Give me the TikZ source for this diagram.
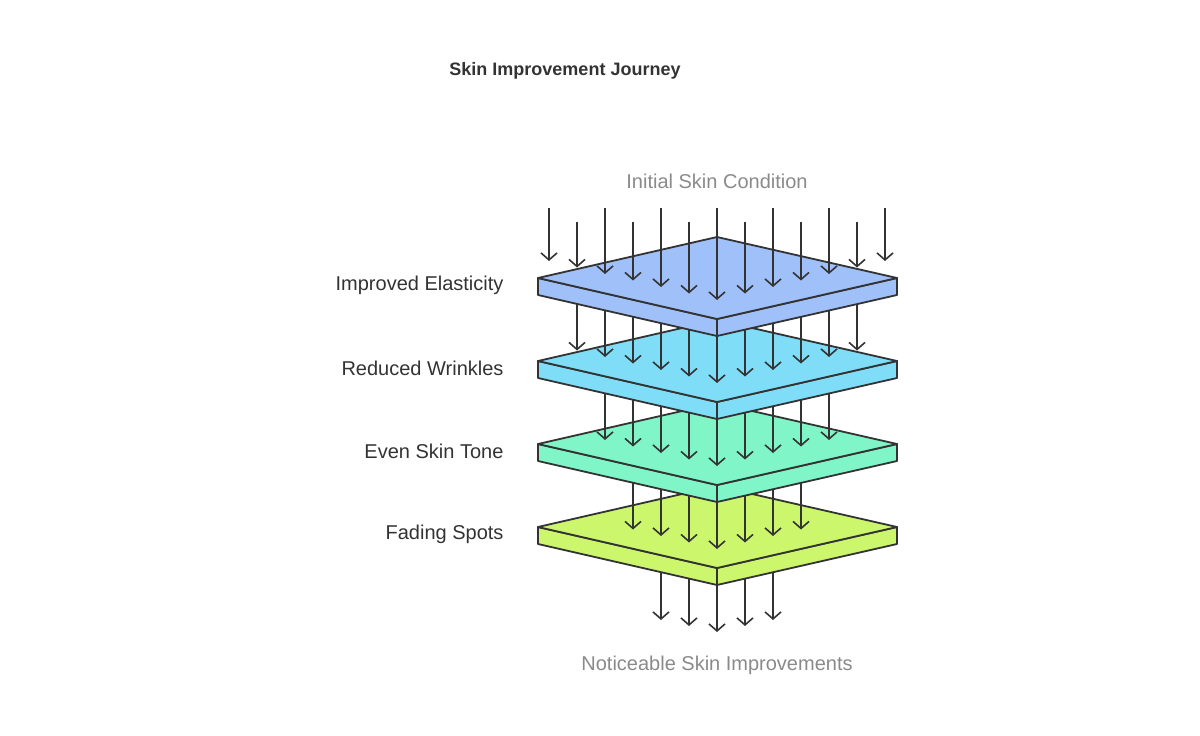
\documentclass[tikz,border=0pt]{standalone}
\usepackage{fontspec}
\setmainfont{Liberation Sans}
\usetikzlibrary{arrows.meta}

\definecolor{ink}{HTML}{333333}
\definecolor{soft}{HTML}{8A8A8A}
\definecolor{layerA}{HTML}{A0C0FA}
\definecolor{layerB}{HTML}{80DDF8}
\definecolor{layerC}{HTML}{80F5C8}
\definecolor{layerD}{HTML}{CCF76D}

\tikzset{
  flow/.style={draw=ink, line width=1.6pt, -{Straight Barb[length=7pt,width=16pt]}},
  slab/.style={draw=ink, line width=1.8pt, line join=round},
  sidelabel/.style={text=ink, font=\fontsize{20}{24}\selectfont, anchor=east},
  endlabel/.style={text=soft, font=\fontsize{20}{24}\selectfont},
}

% one plate, top corner at y = #1
\newcommand\layer[2]{%
  \draw[slab, fill=#2] (538,#1+41) -- (717,#1+82) -- (717,#1+99) -- (538,#1+58) -- cycle;
  \draw[slab, fill=#2] (897,#1+41) -- (717,#1+82) -- (717,#1+99) -- (897,#1+58) -- cycle;
  \draw[slab, fill=#2] (538,#1+41) -- (717,#1) -- (897,#1+41) -- (717,#1+82) -- cycle;
}
% arrows: #1 = max |k|, #2 = start y, #3 = end y at centre
\newcommand\rain[3]{%
  \foreach \k in {-#1,...,#1} {
    \pgfmathsetmacro\ye{#3-6.5*abs(\k)}
    \draw[flow] (717+28*\k,#2) -- (717+28*\k,\ye);
  }
}

\begin{document}
\begin{tikzpicture}[x=1pt,y=-1pt]
  \useasboundingbox (0,0) rectangle (1200,736);

  \node[text=ink, font=\bfseries\fontsize{18}{22}\selectfont] (title) at (565,71) {Skin Improvement Journey};
  \node[endlabel] (start) at (717,181) {Initial Skin Condition};
  \node[endlabel] (finish) at (717,665) {Noticeable Skin Improvements};

  \node[sidelabel] (elastic) at (507,285) {Improved Elasticity};
  \node[sidelabel] (wrinkle) at (507,368) {Reduced Wrinkles};
  \node[sidelabel] (tone) at (507,451) {Even Skin Tone};
  \node[sidelabel] (spots) at (507,534) {Fading Spots};

  \foreach \k in {-2,...,2} {
    \pgfmathsetmacro\ye{632-6*abs(\k)}
    \draw[flow] (717+28*\k,540) -- (717+28*\k,\ye);
  }
  \layer{486}{layerD}
  \rain{3}{456}{549}
  \layer{403}{layerC}
  \rain{4}{373}{466}
  \layer{320}{layerB}
  \rain{5}{290}{383}
  \layer{237}{layerA}

  \foreach \k in {-6,...,6} {
    \pgfmathsetmacro\ys{isodd(\k) ? 222 : 208}
    \pgfmathsetmacro\ye{300-6.5*abs(\k)}
    \draw[flow] (717+28*\k,\ys) -- (717+28*\k,\ye);
  }
\end{tikzpicture}
\end{document}
